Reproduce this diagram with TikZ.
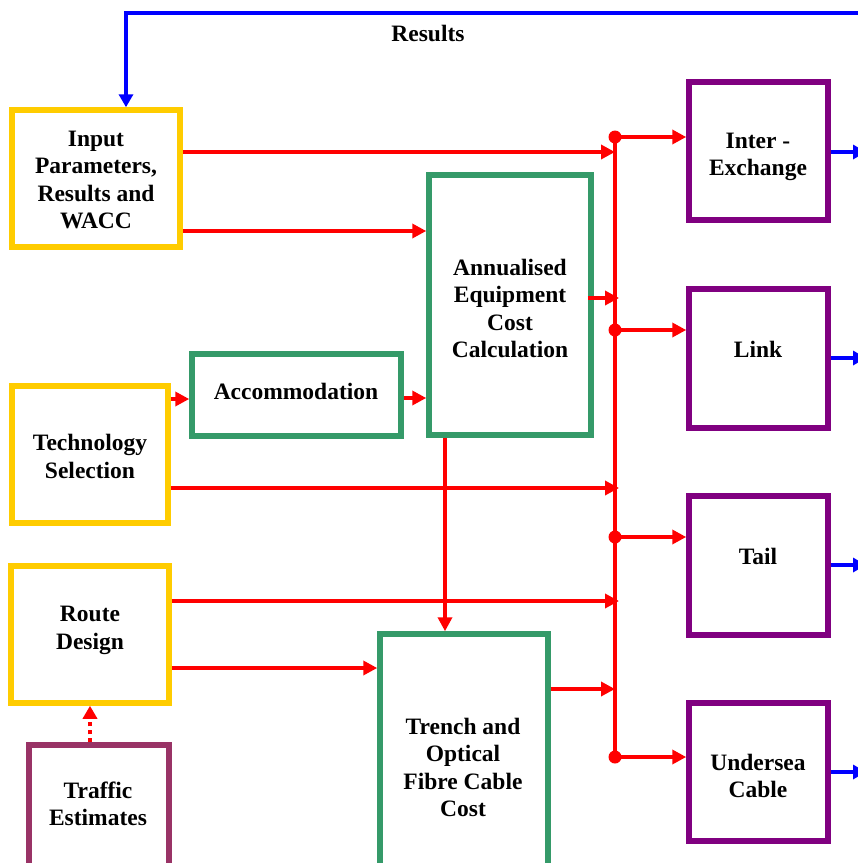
\documentclass[tikz,border=0pt]{standalone}
\usepackage{fontspec}
\setmainfont{Liberation Serif}
\usetikzlibrary{arrows.meta}
\definecolor{yel}{HTML}{FFCC00}
\definecolor{grn}{HTML}{359A69}
\definecolor{pur}{HTML}{800080}
\definecolor{plum}{HTML}{993366}
\definecolor{rd}{HTML}{FF0000}
\definecolor{bl}{HTML}{0000FF}
\begin{document}
\begin{tikzpicture}[x=1pt,y=-1pt,
  box/.style={draw, line width=5.5pt, fill=white, inner sep=0pt},
  ybox/.style={box, draw=yel},
  gbox/.style={box, draw=grn},
  pbox/.style={box, draw=pur},
  mbox/.style={box, draw=plum},
  lbl/.style={font=\fontsize{23.5}{27.5}\selectfont\bfseries, align=center, inner sep=0pt},
  rline/.style={draw=rd, line width=4pt},
  rarr/.style={rline, -{Triangle[length=14pt,width=14pt]}},
  rdot/.style={rline, dash pattern=on 4pt off 4pt, -{Triangle[length=13pt,width=14pt]}},
  barr/.style={draw=bl, line width=4pt, -{Triangle[length=13pt,width=14pt]}},
]
\useasboundingbox (0,0) rectangle (858,863);

% boxes
\node[ybox, minimum width=168pt, minimum height=137pt] (input) at (96,178.5) {};
\node[gbox, minimum width=162pt, minimum height=260pt] (annual) at (510,305) {};
\node[gbox, minimum width=209pt, minimum height=82pt] (accom) at (296.5,395) {};
\node[ybox, minimum width=156pt, minimum height=137pt] (tech) at (90,454.5) {};
\node[ybox, minimum width=158pt, minimum height=137pt] (route) at (90,634.5) {};
\node[mbox, minimum width=140pt, minimum height=155pt] (traffic) at (99,822.5) {};
\node[gbox, minimum width=168pt, minimum height=266pt] (trench) at (464,767) {};
\node[pbox, minimum width=139pt, minimum height=138pt] (interx) at (758.5,151) {};
\node[pbox, minimum width=139pt, minimum height=139pt] (link) at (758.5,358.5) {};
\node[pbox, minimum width=139pt, minimum height=139pt] (tail) at (758.5,565.5) {};
\node[pbox, minimum width=139pt, minimum height=138pt] (under) at (758.5,772) {};

% labels
\node[lbl] (inputT) at (96,180) {Input\\Parameters,\\Results and\\WACC};
\node[lbl] (annualT) at (510,308.5) {Annualised\\Equipment\\Cost\\Calculation};
\node[lbl] (accomT) at (296,391) {Accommodation};
\node[lbl] (techT) at (90,456.5) {Technology\\Selection};
\node[lbl] (routeT) at (90,630.5) {Route\\Design};
\node[lbl] (trafficT) at (98,804) {Traffic\\Estimates};
\node[lbl] (trenchT) at (463,767.5) {Trench and\\Optical\\Fibre Cable\\Cost};
\node[lbl] (interxT) at (758,157) {Inter -\\Exchange};
\node[lbl] (linkT) at (758,349) {Link};
\node[lbl] (tailT) at (758,556) {Tail};
\node[lbl] (underT) at (758,776) {Undersea\\Cable};
\node[lbl] (resT) at (428,33) {Results};

% bus
\coordinate (b1) at (615,137);
\coordinate (b2) at (615,330);
\coordinate (b3) at (615,537);
\coordinate (b4) at (615,757);
\draw[rline] (b1) -- (b4);
\foreach \b in {b1,b2,b3,b4} \fill[rd] (\b) circle (6.5pt);
\draw[rarr] (b1) -- (interx.west |- b1);
\draw[rarr] (b2) -- (link.west |- b2);
\draw[rarr] (b3) -- (tail.west |- b3);
\draw[rarr] (b4) -- (under.west |- b4);

% inputs to bus
\coordinate (j1) at (615,152);
\coordinate (j2) at (619,298);
\coordinate (j3) at (619,488);
\coordinate (j4) at (619,601);
\coordinate (j5) at (615,689);
\draw[rarr] (input.east |- j1) -- (j1);
\draw[rarr, shorten <=-6pt] (annual.east |- j2) -- (j2);
\draw[rarr] (tech.east |- j3) -- (j3);
\draw[rarr] (route.east |- j4) -- (j4);
\draw[rarr] (trench.east |- j5) -- (j5);

% other red connectors
\draw[rarr] (input.east |- 0,231) -- (annual.west |- 0,231);
\draw[rarr] (tech.east |- 0,399) -- (accom.west |- 0,399);
\draw[rarr] (accom.east |- 0,398) -- (annual.west |- 0,398);
\draw[rarr] (annual.south -| 445,0) -- (trench.north -| 445,0);
\draw[rarr] (route.east |- 0,668) -- (trench.west |- 0,668);
\draw[rdot] (traffic.north -| 90,0) -- (route.south -| 90,0);

% blue outputs
\coordinate (o1) at (866,152);
\coordinate (o2) at (866,358);
\coordinate (o3) at (866,565);
\coordinate (o4) at (866,772);
\draw[barr] (interx.east |- o1) -- (o1);
\draw[barr] (link.east |- o2) -- (o2);
\draw[barr] (tail.east |- o3) -- (o3);
\draw[barr] (under.east |- o4) -- (o4);

% feedback
\coordinate (fb) at (880,13);
\draw[barr] (fb) -- (fb -| 126,0) -- (input.north -| 126,0);
\end{tikzpicture}
\end{document}
